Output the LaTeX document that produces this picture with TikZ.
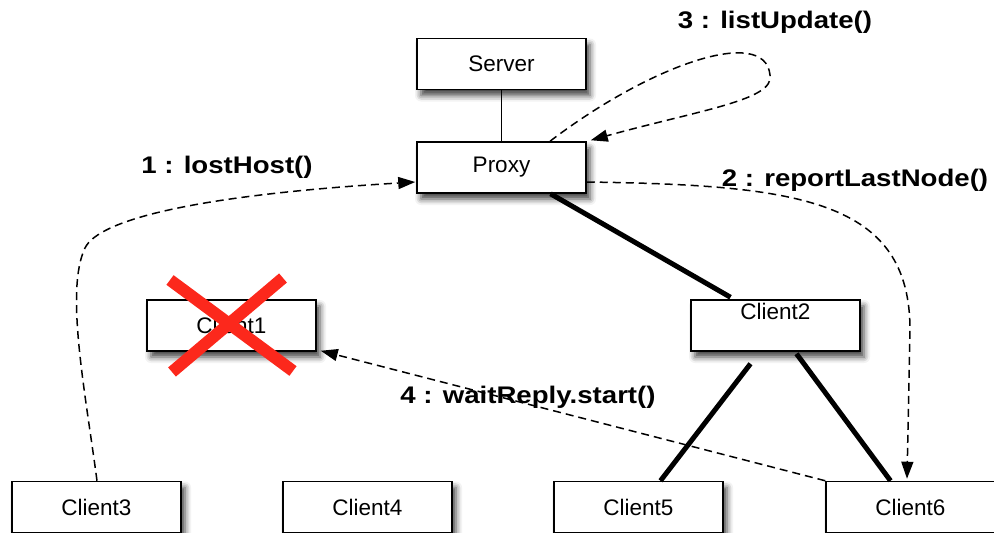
\documentclass[tikz,border=0pt]{standalone}
\usepackage{fontspec}
\setmainfont{Liberation Sans}
\newfontfamily\labfont[FakeStretch=1.15]{Liberation Sans}
\usetikzlibrary{arrows.meta,shadows.blur,calc}
\definecolor{xred}{RGB}{252,40,28}
\begin{document}
\begin{tikzpicture}[x=1pt,y=-1pt,
  box/.style={draw, line width=1.5pt, fill=white, minimum width=169pt, minimum height=51pt,
    inner sep=2pt, font=\fontsize{22.5}{27}\selectfont,
    blur shadow={shadow xshift=4pt, shadow yshift=-6pt, shadow blur radius=6pt, shadow opacity=75}},
  msg/.style={dash pattern=on 8pt off 5pt, line width=1.5pt, -{Triangle[length=17pt,width=12pt]}},
  heavy/.style={line width=5pt},
  lab/.style={font=\labfont\bfseries\fontsize{24}{28}\selectfont, inner sep=0pt},
  crossline/.style={draw=xred, line width=12pt}]
\useasboundingbox (0,0) rectangle (994,533);

% nodes
\node[box] (Server) at (501.5,64) {Server};
\node[box] (Proxy) at (501.5,167.5) {Proxy};
\node[box] (Client1) at (231.5,325.5) {Client1};
\node[box, text height=16pt, text depth=29pt] (Client2) at (775.5,325.5) {Client2};
\node[box] (Client3) at (96.5,507) {Client3};
\node[box] (Client4) at (367.5,507) {Client4};
\node[box] (Client5) at (638.5,507) {Client5};
\node[box] (Client6) at (910.5,507) {Client6};

% solid links
\draw[line width=1.4pt] (Server) -- (Proxy);
\draw[heavy] ($(Proxy.south)+(49,0)$) -- ($(Client2.north)+(-45,-2)$);
\draw[heavy] ($(Client2.south)+(-25,12)$) -- ($(Client5.north)+(22,0)$);
\draw[heavy] ($(Client2.south)+(21,2)$) -- ($(Client6.north)+(-20,0)$);

% messages
\draw[msg] ($(Client3.north)+(0.5,0)$) .. controls (85,390) and (65,290) .. (85,248)
  .. controls (99,219) and (200,195) .. ($(Proxy.west)+(-1,14.5)$);
\draw[msg] ($(Proxy.east)+(0,14.5)$) .. controls (800,185) and (910,200) .. (910,330)
  -- ($(Client6.north)+(-3.5,-2)$);
\draw[msg] ($(Proxy.north)+(48.5,0)$) .. controls (650,65) and (765,25) .. (770,75)
  .. controls (775,100) and (700,110) .. ($(Proxy.north east)+(4,-1)$);
\draw[msg] (Client6.north west) -- ($(Client1.south east)+(4,-1)$);

% labels
\node[lab] (L1) at (227,167) {1 : lostHost()};
\node[lab] (L2) at (855,180) {2 : reportLastNode()};
\node[lab] (L3) at (775,22) {3 : listUpdate()};
\node[lab] (L4) at (528,397) {4 : waitReply.start()};

% red cross
\draw[crossline] (170,280) -- (293,371);
\draw[crossline] (283,278) -- (172,372);
\end{tikzpicture}
\end{document}
